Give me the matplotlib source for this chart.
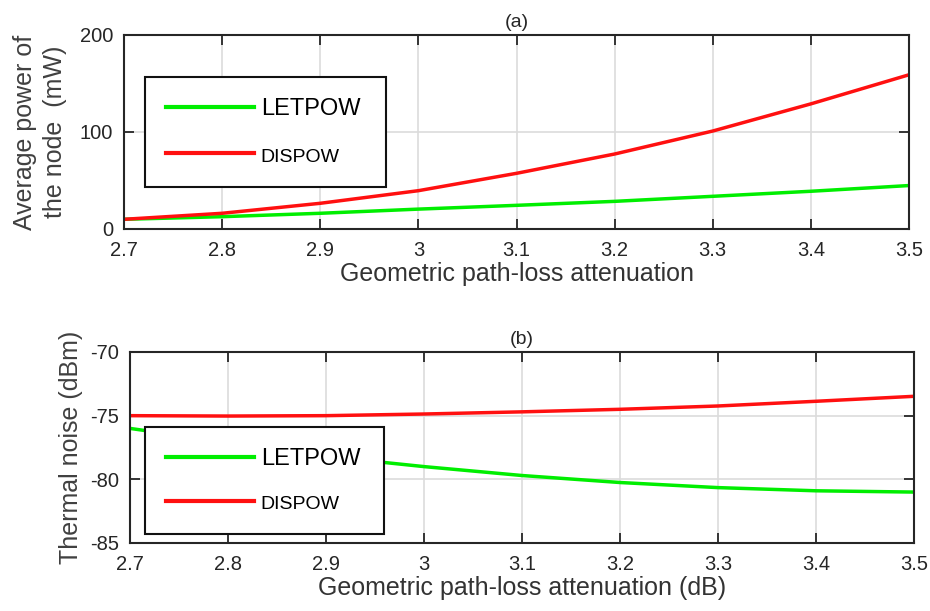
import matplotlib
matplotlib.use('Agg')
import matplotlib.pyplot as plt

plt.rcParams['font.family'] = ['Liberation Sans', 'DejaVu Sans']
plt.rcParams['axes.unicode_minus'] = False

# attenuation values (x axis)
x = [2.7, 2.8, 2.9, 3.0, 3.1, 3.2, 3.3, 3.4, 3.5]

# (a) average power of the node (mW)
letpow_power = [10.0, 12.7, 16.2, 20.5, 24.4, 28.5, 33.7, 38.9, 44.8]
dispow_power = [10.0, 16.2, 26.5, 39.5, 57.4, 77.3, 101.0, 129.0, 159.0]

# (b) thermal noise (dBm)
letpow_noise = [-76.0, -77.1, -78.2, -79.0, -79.7, -80.25, -80.65, -80.9, -81.0]
dispow_noise = [-75.0, -75.03, -75.0, -74.87, -74.7, -74.5, -74.24, -73.87, -73.48]

xticks = [2.7, 2.8, 2.9, 3.0, 3.1, 3.2, 3.3, 3.4, 3.5]
xticklabels = ['2.7', '2.8', '2.9', '3', '3.1', '3.2', '3.3', '3.4', '3.5']

green = '#00ee00'
red = '#ff1010'
txt = '#262626'

fig = plt.figure(figsize=(9.3, 6.11), dpi=100)
ax1 = fig.add_axes([124/930, 1-229/611, (909-124)/930, (229-35)/611])
ax2 = fig.add_axes([130/930, 1-543/611, (914-130)/930, (543-352)/611])


def style(ax):
    ax.set_xlim(2.7, 3.5)
    ax.set_xticks(xticks)
    ax.set_xticklabels(xticklabels)
    ax.grid(True, color='#dcdcdc', linewidth=1.2)
    ax.set_axisbelow(True)
    ax.tick_params(direction='in', top=True, right=True, length=7,
                   width=1.3, labelsize=14.5, colors=txt)
    ax.tick_params(axis='x', pad=9)
    ax.tick_params(axis='y', pad=8)
    for s in ax.spines.values():
        s.set_linewidth(1.5)
        s.set_color(txt)


ax1.plot(x, letpow_power, color=green, lw=2.5, label='LETPOW')
ax1.plot(x, dispow_power, color=red, lw=2.5, label='DISPOW')
style(ax1)
ax1.set_ylim(0, 200)
ax1.set_yticks([0, 100, 200])
ax1.set_title('(a)', fontsize=14, pad=6, color=txt)
ax1.set_xlabel('Geometric path-loss attenuation', fontsize=18, labelpad=1, color='#333333')
ax1.set_ylabel('Average power of\nthe node  (mW)', fontsize=18, labelpad=9,
               color='#404040', linespacing=1.3)

ax2.plot(x, letpow_noise, color=green, lw=2.5, label='LETPOW')
ax2.plot(x, dispow_noise, color=red, lw=2.5, label='DISPOW')
style(ax2)
ax2.set_ylim(-85, -70)
ax2.set_yticks([-85, -80, -75, -70])
ax2.set_title('(b)', fontsize=14, pad=6, color=txt)
ax2.set_xlabel('Geometric path-loss attenuation (dB)', fontsize=18, labelpad=1, color='#333333')
ax2.set_ylabel('Thermal noise (dBm)', fontsize=18, labelpad=5, color='#404040')


def make_legend(ax, box, spacing):
    leg = ax.legend(loc='upper left', bbox_to_anchor=box, bbox_transform=fig.transFigure,
                    mode='expand', frameon=True, fancybox=False, framealpha=1,
                    edgecolor='#111111', handlelength=3.7, handletextpad=0.3,
                    borderpad=0.9, labelspacing=spacing, fontsize=17, borderaxespad=0)
    leg.get_frame().set_linewidth(1.5)
    for line in leg.get_lines():
        line.set_linewidth(3)
    leg.get_texts()[1].set_fontsize(14)
    return leg


make_legend(ax1, (145/930, 1-185/611, (386-145)/930, (185-77)/611), 1.05)
make_legend(ax2, (145/930, 1-528/611, (384-145)/930, (528-427)/611), 0.95)

fig.savefig('out.png', dpi=100)
